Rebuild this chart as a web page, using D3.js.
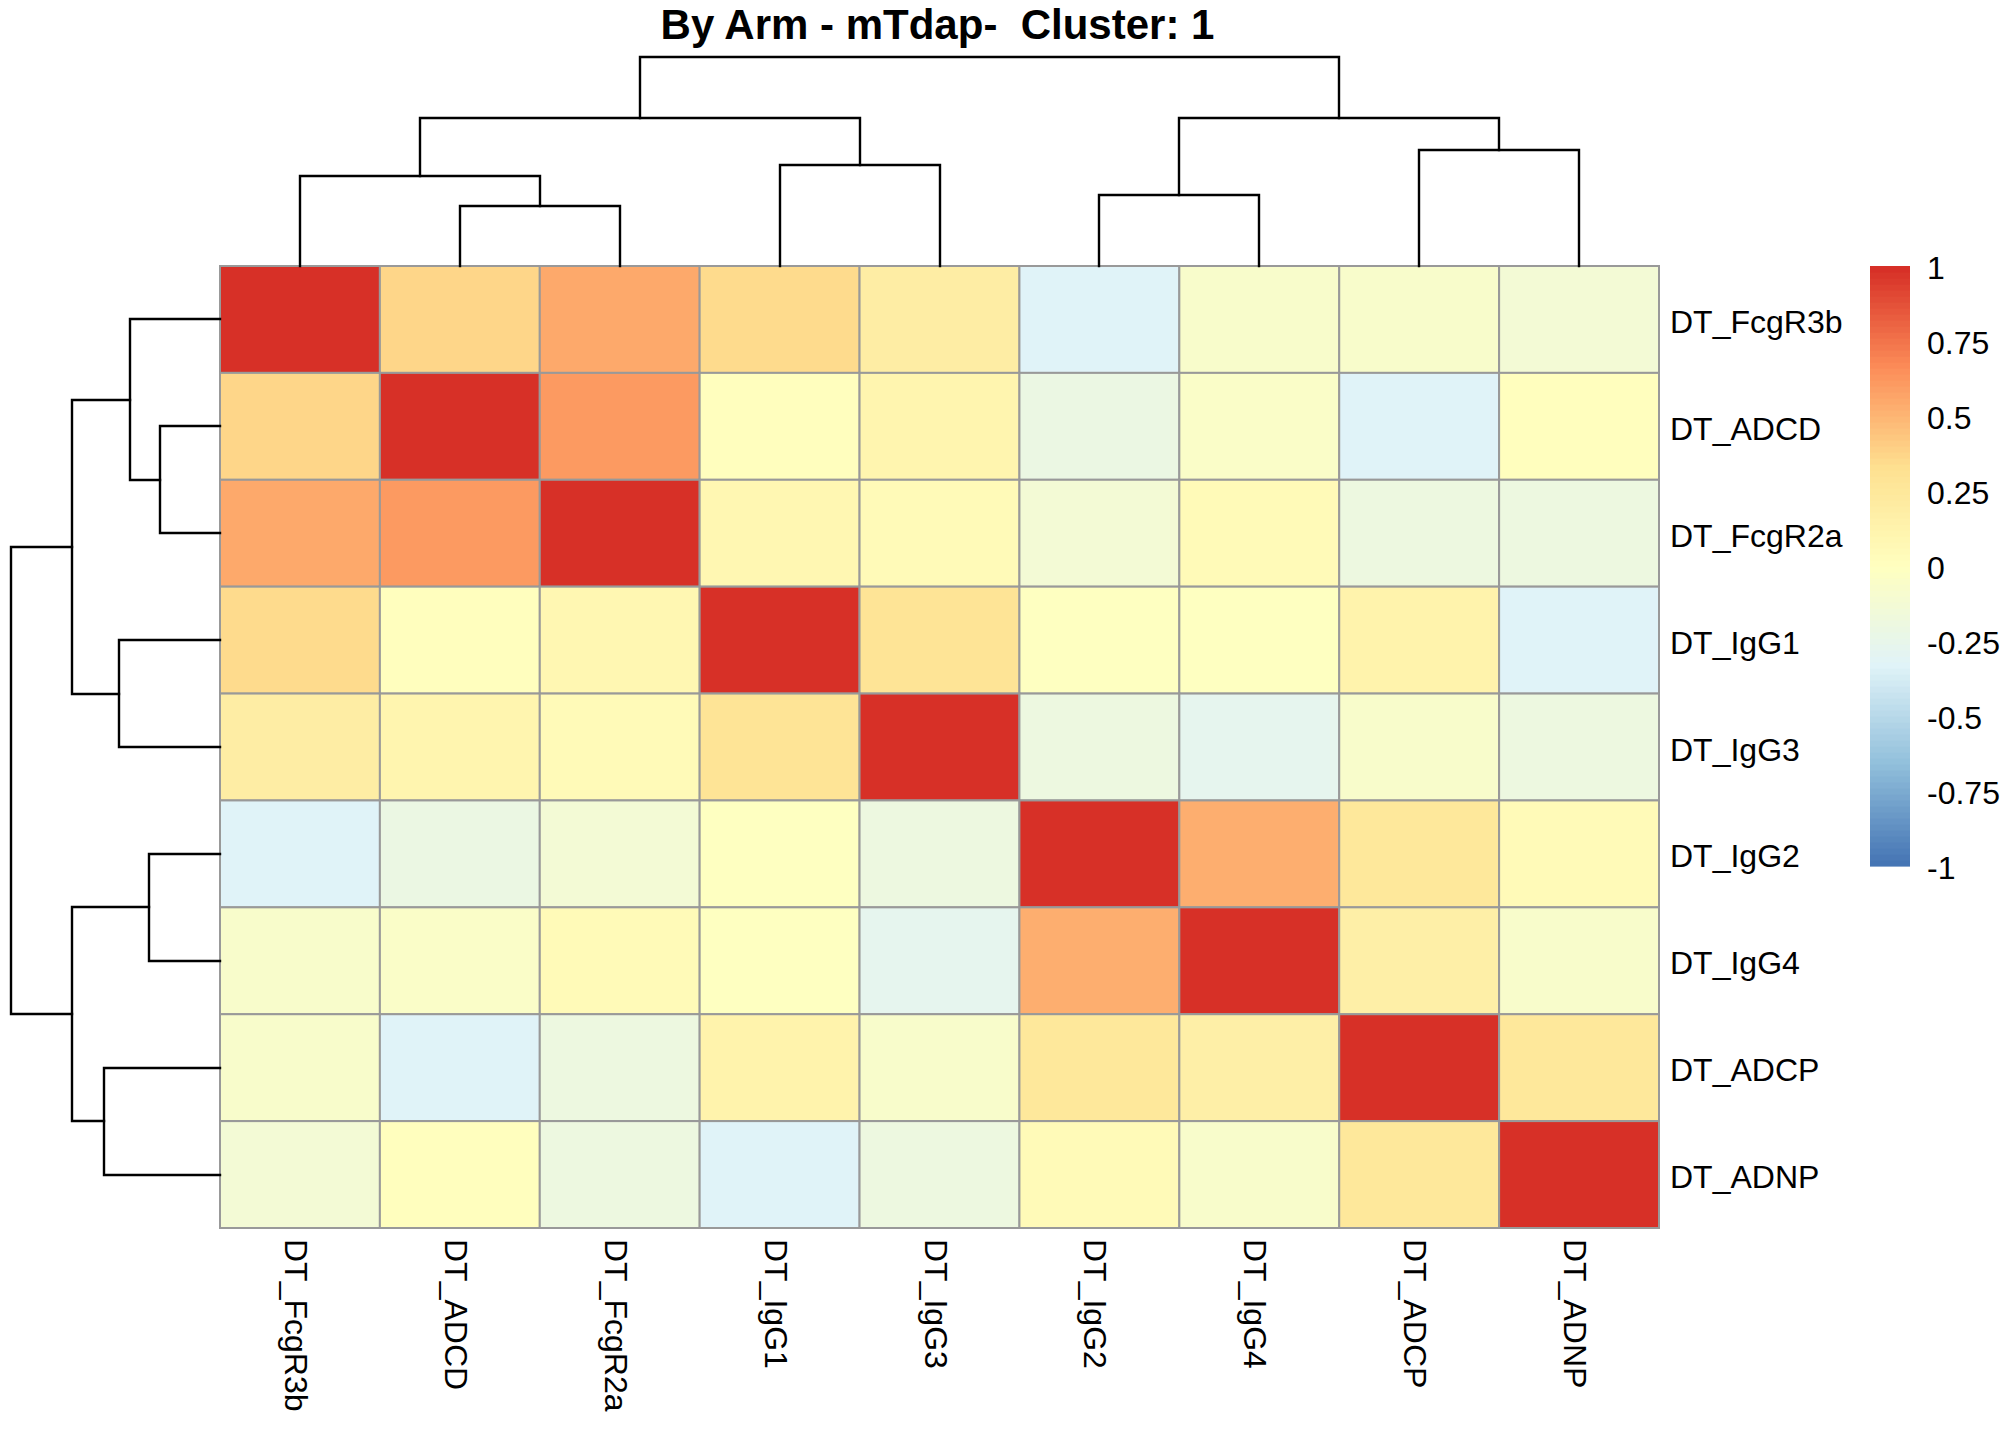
<!DOCTYPE html>
<html>
<head>
<meta charset="utf-8">
<script src="https://cdn.jsdelivr.net/npm/d3@7"></script>
<style>
  body { margin: 0; background: #fff; }
  text { font-family: "Liberation Sans", Arial, sans-serif; fill: #000; }
</style>
</head>
<body>
<div id="chart"></div>
<script>
const title = "By Arm - mTdap-  Cluster: 1";

// display order (same for rows and columns)
const labels = [
  "DT_FcgR3b", "DT_ADCD", "DT_FcgR2a", "DT_IgG1", "DT_IgG3",
  "DT_IgG2", "DT_IgG4", "DT_ADCP", "DT_ADNP",
];

// correlation values
const corrValues = [
  [1.0, 0.37, 0.55, 0.34, 0.18, -0.33, -0.07, -0.07, -0.14],
  [0.37, 1.0, 0.6, 0.0, 0.1, -0.22, -0.05, -0.33, 0.01],
  [0.55, 0.6, 1.0, 0.08, 0.04, -0.14, 0.05, -0.2, -0.2],
  [0.34, 0.0, 0.08, 1.0, 0.28, -0.02, -0.02, 0.12, -0.33],
  [0.18, 0.1, 0.04, 0.28, 1.0, -0.2, -0.28, -0.07, -0.2],
  [-0.33, -0.22, -0.14, -0.02, -0.2, 1.0, 0.53, 0.24, 0.04],
  [-0.07, -0.05, 0.05, -0.02, -0.28, 0.53, 1.0, 0.17, -0.07],
  [-0.07, -0.33, -0.2, 0.12, -0.07, 0.24, 0.17, 1.0, 0.24],
  [-0.14, 0.01, -0.2, -0.33, -0.2, 0.04, -0.07, 0.24, 1.0],
];

// hclust style merges: negative = leaf (1-based), positive = earlier merge
const merges = [
  [-2, -3, 0.288],
  [-6, -7, 0.34],
  [-1, 1, 0.43],
  [-4, -5, 0.483],
  [-8, -9, 0.555],
  [3, 4, 0.708],
  [2, 5, 0.708],
  [6, 7, 1.0],
];

const legendTicks = [1, 0.75, 0.5, 0.25, 0, -0.25, -0.5, -0.75, -1];
const paletteColors = ["#4575B4", "#91BFDB", "#E0F3F8", "#FFFFBF", "#FEE090", "#FC8D59", "#D73027"];

const width = 2016;
const height = 1440;
const heat = { left: 220, top: 266, right: 1659, bottom: 1228 };
const fontSize = 32;

const svg = d3
  .select("#chart")
  .append("svg")
  .attr("width", width)
  .attr("height", height)
  .style("display", "block");

const x = d3.scaleBand().domain(labels).range([heat.left, heat.right]);
const y = d3.scaleBand().domain(labels).range([heat.top, heat.bottom]);

// 100 colour ramp like colorRampPalette(rev(brewer.pal(7, "RdYlBu")))(100)
const ramp = d3.quantize(d3.piecewise(d3.interpolateRgb, paletteColors), 100);
const color = d3.scaleQuantize().domain([-1, 1]).range(ramp);

// Cells
const cells = [];
corrValues.forEach((row, i) =>
  row.forEach((v, j) => cells.push({ row: labels[i], col: labels[j], value: v }))
);

svg
  .append("g")
  .selectAll("rect")
  .data(cells)
  .join("rect")
  .attr("x", (d) => x(d.col))
  .attr("y", (d) => y(d.row))
  .attr("width", x.bandwidth())
  .attr("height", y.bandwidth())
  .attr("fill", (d) => color(d.value))
  .attr("stroke", "#999999")
  .attr("stroke-width", 2);

// Dendrograms
function dendroSegments(pos) {
  // pos(label) -> centre of leaf; returns list of elbows
  const nodes = [];
  const get = (k) => (k < 0 ? { p: pos(labels[-k - 1]), h: 0 } : nodes[k - 1]);
  const segs = [];
  merges.forEach(([a, b, h]) => {
    const l = get(a);
    const r = get(b);
    segs.push({ l, r, h });
    nodes.push({ p: (l.p + r.p) / 2, h });
  });
  return segs;
}

const colHeight = d3.scaleLinear().domain([0, 1]).range([heat.top, 56.7]).interpolate(d3.interpolateRound);
const rowHeight = d3.scaleLinear().domain([0, 1]).range([heat.left, 10.7]).interpolate(d3.interpolateRound);
const r = Math.round;

svg
  .append("g")
  .attr("class", "col-dendro")
  .selectAll("path")
  .data(dendroSegments((k) => x(k) + x.bandwidth() / 2))
  .join("path")
  .attr("d", (d) =>
    `M${r(d.l.p)},${colHeight(d.l.h)}V${colHeight(d.h)}H${r(d.r.p)}V${colHeight(d.r.h)}`
  )
  .attr("fill", "none")
  .attr("stroke", "#000")
  .attr("stroke-width", 2.4)
  .attr("stroke-linecap", "square");

svg
  .append("g")
  .attr("class", "row-dendro")
  .selectAll("path")
  .data(dendroSegments((k) => y(k) + y.bandwidth() / 2))
  .join("path")
  .attr("d", (d) =>
    `M${rowHeight(d.l.h)},${r(d.l.p)}H${rowHeight(d.h)}V${r(d.r.p)}H${rowHeight(d.r.h)}`
  )
  .attr("fill", "none")
  .attr("stroke", "#000")
  .attr("stroke-width", 2.4)
  .attr("stroke-linecap", "square");

// Row labels
svg
  .append("g")
  .selectAll("text")
  .data(labels)
  .join("text")
  .attr("x", heat.right + 11)
  .attr("y", (d) => y(d) + y.bandwidth() / 2 + 13.5)
  .style("font-size", fontSize + "px")
  .text((d) => d);

// Column labels
svg
  .append("g")
  .selectAll("text")
  .data(labels)
  .join("text")
  .attr("transform", (d) => `translate(${x(d) + x.bandwidth() / 2},${heat.bottom + 11}) rotate(90)`)
  .attr("dy", 15)
  .style("font-size", fontSize + "px")
  .text((d) => d);

// Legend
const legendY = d3.scaleLinear().domain([-1, 1]).range([866, 266]);
const legendX = 1870;
const legendW = 40;
const bands = d3.range(100).map((i) => -1 + (i * 2) / 100);

svg
  .append("g")
  .selectAll("rect")
  .data(bands)
  .join("rect")
  .attr("x", legendX)
  .attr("y", (d) => legendY(d + 0.02))
  .attr("width", legendW)
  .attr("height", (d) => legendY(d) - legendY(d + 0.02) + 0.6)
  .attr("fill", (d) => color(d + 0.01));

svg
  .append("g")
  .selectAll("text")
  .data(legendTicks)
  .join("text")
  .attr("x", 1927)
  .attr("y", (d) => legendY(d) + 12.5)
  .style("font-size", fontSize + "px")
  .text((d) => String(d));

// Title
svg
  .append("text")
  .attr("x", (heat.left + heat.right) / 2 - 2)
  .attr("y", 38.5)
  .attr("text-anchor", "middle")
  .style("font-size", "42px")
  .style("font-weight", "bold")
  .style("white-space", "pre")
  .text(title);
</script>
</body>
</html>
